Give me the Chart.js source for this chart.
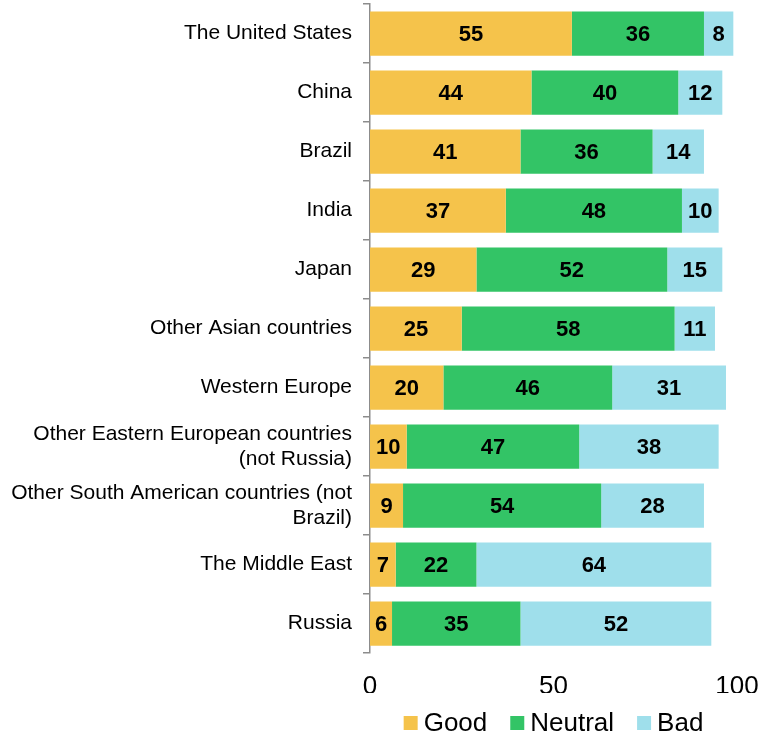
<!DOCTYPE html>
<html>
<head>
<meta charset="utf-8">
<script src="https://cdn.jsdelivr.net/npm/chart.js@4"></script>
<style>
  html, body { margin: 0; padding: 0; background: #fff; }
  #wrap { width: 761px; height: 739px; }
</style>
</head>
<body>
<div id="wrap"><canvas id="myChart" width="761" height="739"></canvas></div>
<script>
var CATEGORIES = [
    'The United States',
    'China',
    'Brazil',
    'India',
    'Japan',
    'Other Asian countries',
    'Western Europe',
    ['Other Eastern European countries', '(not Russia)'],
    ['Other South American countries (not', 'Brazil)'],
    'The Middle East',
    'Russia'
];
var GOOD =    [55, 44, 41, 37, 29, 25, 20, 10,  9,  7,  6];
var NEUTRAL = [36, 40, 36, 48, 52, 58, 46, 47, 54, 22, 35];
var BAD =     [ 8, 12, 14, 10, 15, 11, 31, 38, 28, 64, 52];
var X_TICKS = [0, 50, 100];

var COLORS = ['#F5C34B', '#33C466', '#9FDFEB'];
var FONT = "Arial, 'Liberation Sans', sans-serif";

// values written in the middle of each segment
var barValues = {
    id: 'barValues',
    afterDatasetsDraw: function(chart) {
        var ctx = chart.ctx;
        ctx.save();
        ctx.font = 'bold 22px ' + FONT;
        ctx.fillStyle = '#000';
        ctx.textAlign = 'center';
        ctx.textBaseline = 'middle';
        chart.data.datasets.forEach(function(ds, i) {
            chart.getDatasetMeta(i).data.forEach(function(bar, j) {
                ctx.fillText(ds.data[j], (bar.x + bar.base) / 2, bar.y + 1);
            });
        });
        ctx.restore();
    }
};

// legend centred under the plot area, small square boxes
var bottomLegend = {
    id: 'bottomLegend',
    afterDraw: function(chart) {
        var ctx = chart.ctx;
        var box = 14, gap = 6, spacing = 23;
        ctx.save();
        ctx.font = '26px ' + FONT;
        ctx.textBaseline = 'middle';
        ctx.textAlign = 'left';
        var items = chart.data.datasets.map(function(ds) {
            return { text: ds.label, color: ds.backgroundColor, w: ctx.measureText(ds.label).width };
        });
        var total = 0;
        items.forEach(function(it, i) { total += box + gap + it.w + (i ? spacing : 0); });
        var area = chart.chartArea;
        var x = (area.left + area.right) / 2 - total / 2;
        var y = 723;
        items.forEach(function(it) {
            ctx.fillStyle = it.color;
            ctx.fillRect(x, y - 7, box, box);
            ctx.fillStyle = '#000';
            ctx.fillText(it.text, x + box + gap, y + 1);
            x += box + gap + it.w + spacing;
        });
        ctx.restore();
    }
};

Chart.defaults.font.family = FONT;
Chart.defaults.color = '#000';

var ctx = document.getElementById('myChart').getContext('2d');
var myChart = new Chart(ctx, {
    type: 'bar',
    data: {
        labels: CATEGORIES,
        datasets: [
            { label: 'Good', data: GOOD, backgroundColor: COLORS[0] },
            { label: 'Neutral', data: NEUTRAL, backgroundColor: COLORS[1] },
            { label: 'Bad', data: BAD, backgroundColor: COLORS[2] }
        ]
    },
    options: {
        indexAxis: 'y',
        responsive: false,
        animation: false,
        categoryPercentage: 1,
        barPercentage: 0.75,
        layout: { padding: { top: 4, right: 24, left: 0, bottom: 46 } },
        scales: {
            x: {
                stacked: true,
                min: 0,
                max: 100,
                afterBuildTicks: function(axis) {
                    axis.ticks = X_TICKS.map(function(v) { return { value: v }; });
                },
                grid: { display: false, drawTicks: false },
                border: { display: false },
                ticks: { font: { size: 26 }, padding: 18, maxRotation: 0 },
                afterFit: function(axis) {
                    axis.height = 40;
                    axis.paddingLeft = 0;
                    axis.paddingRight = 0;
                }
            },
            y: {
                stacked: true,
                grid: {
                    offset: true,
                    drawOnChartArea: false,
                    color: '#8c8c8c',
                    lineWidth: 1.5,
                    tickLength: 7
                },
                border: { color: '#8c8c8c', width: 1.5 },
                ticks: { font: { size: 21, lineHeight: 1.2 }, padding: 11 },
                afterFit: function(axis) {
                    axis.width = 370;
                    axis.paddingTop = 0;
                    axis.paddingBottom = 0;
                }
            }
        },
        plugins: {
            legend: { display: false },
            tooltip: { enabled: false }
        }
    },
    plugins: [barValues, bottomLegend]
});
</script>
</body>
</html>
